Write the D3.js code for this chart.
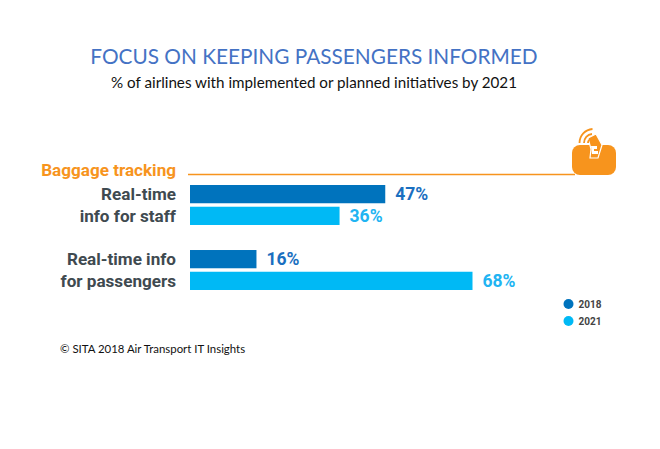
<!DOCTYPE html>
<html>
<head>
<meta charset="utf-8">
<script src="https://cdn.jsdelivr.net/npm/d3@7"></script>
<style>
  html, body { margin: 0; padding: 0; background: #fff; }
  svg { display: block; }
  text { font-family: Lato, sans-serif; }
  .din { font-family: Roboto, sans-serif; font-weight: 700; }
</style>
</head>
<body>
<div id="chart"></div>
<script>
var categories = ["staff", "passengers"];
var categoryLabels = [["Real-time", "info for staff"], ["Real-time info", "for passengers"]];
var years = ["2018", "2021"];
var values2018 = [47, 16];
var values2021 = [36, 68];
var colors = ["#0073bd", "#00b9f5"];
var textColors = ["#1a6fc0", "#21b4f2"];

var svg = d3.select("#chart").append("svg")
  .attr("width", 660)
  .attr("height", 449);

svg.append("text")
  .attr("x", 314).attr("y", 64)
  .attr("text-anchor", "middle")
  .attr("font-size", 20.8)
  .attr("fill", "#4472c4")
  .text("FOCUS ON KEEPING PASSENGERS INFORMED");

svg.append("text")
  .attr("x", 314).attr("y", 88)
  .attr("text-anchor", "middle")
  .attr("font-size", 15.2)
  .attr("fill", "#111")
  .text("% of airlines with implemented or planned initiatives by 2021");

// section header + rule
svg.append("text")
  .attr("class", "din")
  .attr("x", 176).attr("y", 176)
  .attr("text-anchor", "end")
  .attr("font-size", 17.1)
  .attr("fill", "#f7941d")
  .text("Baggage tracking");

svg.append("line")
  .attr("x1", 188).attr("x2", 575)
  .attr("y1", 174.5).attr("y2", 174.5)
  .attr("stroke", "#f7941d")
  .attr("stroke-width", 1.5);

// bars
var x = d3.scaleLinear().domain([0, 68]).range([190, 472.5]);
var y0 = d3.scaleBand().domain(categories).range([185, 290]).paddingInner(0.385);
var y1 = d3.scaleBand().domain(years).range([0, y0.bandwidth()]).paddingInner(0.16);

var rows = [];
categories.forEach(function(c, i) {
  rows.push({ cat: c, year: "2018", value: values2018[i], k: 0 });
  rows.push({ cat: c, year: "2021", value: values2021[i], k: 1 });
});

svg.selectAll("rect.bar")
  .data(rows)
  .enter().append("rect")
  .attr("class", "bar")
  .attr("x", x(0))
  .attr("y", function(d) { return y0(d.cat) + y1(d.year); })
  .attr("width", function(d) { return x(d.value) - x(0); })
  .attr("height", y1.bandwidth())
  .attr("fill", function(d) { return colors[d.k]; });

svg.selectAll("text.val")
  .data(rows)
  .enter().append("text")
  .attr("class", "val din")
  .attr("x", function(d) { return x(d.value) + 10; })
  .attr("y", function(d) { return y0(d.cat) + y1(d.year) + y1.bandwidth() / 2 + 6; })
  .attr("font-size", 17.5)
  .attr("fill", function(d) { return textColors[d.k]; })
  .text(function(d) { return d.value + "%"; });

// category labels
categories.forEach(function(c, i) {
  years.forEach(function(yr, j) {
    svg.append("text")
      .attr("class", "din")
      .attr("x", 176)
      .attr("y", y0(c) + y1(yr) + y1.bandwidth() / 2 + 6)
      .attr("text-anchor", "end")
      .attr("font-size", 17.1)
      .attr("fill", "#3f4a50")
      .text(categoryLabels[i][j]);
  });
});

// legend
var legendY = d3.scalePoint().domain(years).range([304, 321]);
years.forEach(function(yr, i) {
  svg.append("circle")
    .attr("cx", 568.5).attr("cy", legendY(yr)).attr("r", 5)
    .attr("fill", colors[i]);
  svg.append("text")
    .attr("class", "din")
    .attr("x", 578.5).attr("y", legendY(yr) + 3.5)
    .attr("font-size", 10)
    .attr("fill", "#444")
    .text(yr);
});

// bag icon
var bag = svg.append("g");
bag.append("rect")
  .attr("x", 572).attr("y", 145).attr("width", 44).attr("height", 30).attr("rx", 8)
  .attr("fill", "#f7941d");
bag.append("path")
  .attr("d", "M588 138l8 -4l6 11l-4 13h-8l1 -9z")
  .attr("fill", "#f7941d")
  .attr("stroke", "#fff")
  .attr("stroke-width", 1.2);
bag.append("path")
  .attr("d", "M591 146h6v3h-3v2h4v3h-6z")
  .attr("fill", "#fff");
bag.append("path")
  .attr("d", "M579.5 143a14 14 0 0 1 13 -14 M584 143a9 9 0 0 1 8 -9 M588 143a4 4 0 0 1 3 -4")
  .attr("fill", "none")
  .attr("stroke", "#f7941d")
  .attr("stroke-width", 1.8);

svg.append("text")
  .attr("x", 60).attr("y", 353)
  .attr("font-size", 11.4)
  .attr("fill", "#111")
  .text("© SITA 2018 Air Transport IT Insights");
</script>
</body>
</html>
